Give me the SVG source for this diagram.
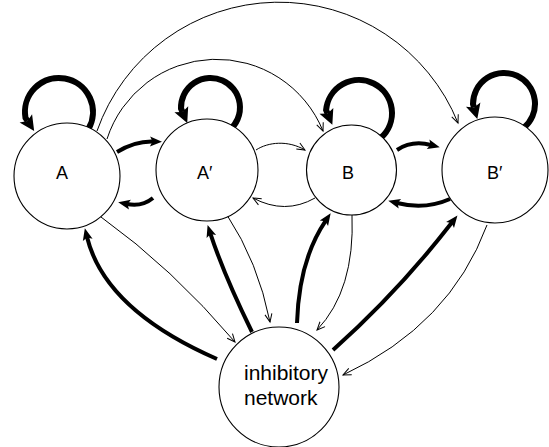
<svg xmlns="http://www.w3.org/2000/svg" width="549" height="447" viewBox="0 0 549 447">
<style>
.node{fill:#fff;stroke:#000;stroke-width:1.1}
.lbl{font-family:"Liberation Sans",Arial,sans-serif;font-size:18px;fill:#000}
.inh{font-family:"Liberation Sans",Arial,sans-serif;font-size:21px;fill:#000}
.thin{fill:none;stroke:#000;stroke-width:1;marker-end:url(#openhead)}
.thick{fill:none;stroke:#000;stroke-width:4;marker-end:url(#thickhead)}
.loop{fill:none;stroke:#000;stroke-width:6;marker-end:url(#loophead)}
</style>
<defs>
<marker id="openhead" markerUnits="userSpaceOnUse" markerWidth="10" markerHeight="10" refX="8" refY="3.5" orient="auto" overflow="visible">
<path d="M0,0 L8,3.5 L0,7" fill="none" stroke="#000" stroke-width="1"/>
</marker>
<marker id="thickhead" markerUnits="userSpaceOnUse" markerWidth="14" markerHeight="12" refX="3" refY="5" orient="auto" overflow="visible">
<path d="M0,0 L12,5 L0,10 L2.5,5 z" fill="#000"/>
</marker>
<marker id="loophead" markerUnits="userSpaceOnUse" markerWidth="16" markerHeight="16" refX="3" refY="7.5" orient="auto" overflow="visible">
<path d="M0,0 L15,7.5 L0,15 L3,7.5 z" fill="#000"/>
</marker>
</defs>
<g id="connectors">
<path class="loop" d="M88.4 129 A34 34 0 1 0 25.5 117.9 l2 3"/>
<path class="loop" d="M229.5 130.1 A29.5 29.5 0 1 0 181 108.5 l1.5 3.5"/>
<path class="loop" d="M381.1 137.5 A33 33 0 1 0 326.1 110.1 l1.5 3.5"/>
<path class="loop" d="M523.9 127.7 A31 31 0 1 0 473 104 l1 3.5"/>
<path class="thick" d="M117 152 Q135 141 153 141.5"/>
<path class="thick" d="M153 198 Q142 207 127 204"/>
<path class="thick" d="M397 150 Q412 140 431 145"/>
<path class="thick" d="M450 199 Q425 210 397 203"/>
<path class="thin" d="M256 150 C268 142 288 140 305 150"/>
<path class="thin" d="M315 198 Q285 215 253 198"/>
<path class="thin" d="M107 139 A115 115 0 0 1 323 131"/>
<path class="thin" d="M97 131 A193 193 0 0 1 458 123"/>
<path class="thick" d="M217 359 Q105 310 87 237"/>
<path class="thick" d="M252 332 Q224 275 210.4 233.6"/>
<path class="thick" d="M297 323 Q299 260 325.6 220.8"/>
<path class="thick" d="M333 350 Q398 292 451.9 222.6"/>
<path class="thin" d="M101 217 Q172 268 235 342"/>
<path class="thin" d="M227 215 Q258 262 270 322"/>
<path class="thin" d="M352 215 Q355 290 317 330"/>
<path class="thin" d="M487 225 Q450 325 343 375"/>
</g>
<g id="node-A">
<circle class="node" cx="67" cy="176" r="53"/>
<text class="lbl" x="56" y="179">A</text>
</g>
<g id="node-A-prime">
<circle class="node" cx="207" cy="170" r="51"/>
<text class="lbl" x="197" y="179">A′</text>
</g>
<g id="node-B">
<circle class="node" cx="351.5" cy="170" r="45"/>
<text class="lbl" x="342" y="179">B</text>
</g>
<g id="node-B-prime">
<circle class="node" cx="495" cy="170" r="53"/>
<text class="lbl" x="487" y="179">B′</text>
</g>
<g id="node-inhibitory">
<circle class="node" cx="279" cy="387" r="60"/>
<text class="inh" x="244" y="380">inhibitory</text>
<text class="inh" x="244" y="405">network</text>
</g>
</svg>
